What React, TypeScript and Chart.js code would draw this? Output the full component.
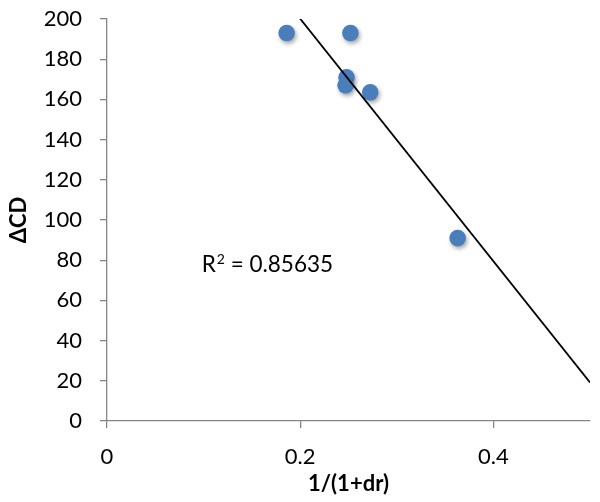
import React, { useEffect, useRef } from "react";
import { Chart, registerables } from "chart.js";

Chart.register(...registerables);

// ---- data ----
const xValues = [0.186, 0.252, 0.248, 0.247, 0.2725, 0.363];
const yValues = [193, 193, 171, 167, 163.5, 91];
const xTickValues = [0, 0.2, 0.4];
const yTickStep = 20;
const xAxisMin = 0;
const xAxisMax = 0.5;
const yAxisMin = 0;
const yAxisMax = 200;
const xTitle = "1/(1+dr)";
const yTitle = "ΔCD";
const rSquaredBase = "R";
const rSquaredSup = "2";
const rSquaredRest = " = 0.85635";
const rSquaredAnchor = { x: 0.098, y: 77.6 };

// least-squares linear trend line (as Excel computes it)
function linearFit(xs: number[], ys: number[]) {
  const n = xs.length;
  const mx = xs.reduce((a, b) => a + b, 0) / n;
  const my = ys.reduce((a, b) => a + b, 0) / n;
  let sxy = 0;
  let sxx = 0;
  for (let i = 0; i < n; i++) {
    sxy += (xs[i] - mx) * (ys[i] - my);
    sxx += (xs[i] - mx) * (xs[i] - mx);
  }
  const slope = sxy / sxx;
  return { slope, intercept: my - slope * mx };
}

const FONT = "Lato, 'Open Sans', 'DejaVu Sans', sans-serif";
const AXIS_GRAY = "#868686";

export default function App() {
  const canvasRef = useRef<HTMLCanvasElement | null>(null);

  useEffect(() => {
    const canvas = canvasRef.current;
    if (!canvas) return;
    const fit = linearFit(xValues, yValues);
    const trendXs = [Math.min(...xValues), xAxisMax];
    const trendData = trendXs.map((x) => ({ x, y: fit.intercept + fit.slope * x }));
    const points = xValues.map((x, i) => ({ x, y: yValues[i] }));

    const shadowPlugin = {
      id: "pointShadow",
      beforeDatasetDraw(chart: any, args: any) {
        if (args.index !== 1) return;
        const ctx = chart.ctx;
        ctx.save();
        ctx.shadowColor = "rgba(0,0,0,0.35)";
        ctx.shadowBlur = 4;
        ctx.shadowOffsetX = 1.5;
        ctx.shadowOffsetY = 2.5;
      },
      afterDatasetDraw(chart: any, args: any) {
        if (args.index !== 1) return;
        chart.ctx.restore();
      },
    };

    const labelPlugin = {
      id: "rSquared",
      afterDatasetsDraw(chart: any) {
        const ctx = chart.ctx;
        let x = chart.scales.x.getPixelForValue(rSquaredAnchor.x);
        const y = chart.scales.y.getPixelForValue(rSquaredAnchor.y);
        ctx.save();
        ctx.fillStyle = "#000";
        ctx.textAlign = "left";
        ctx.textBaseline = "middle";
        ctx.font = `22.5px ${FONT}`;
        ctx.fillText(rSquaredBase, x, y);
        x += ctx.measureText(rSquaredBase).width + 1;
        ctx.font = `14px ${FONT}`;
        ctx.fillText(rSquaredSup, x, y - 6);
        x += ctx.measureText(rSquaredSup).width;
        ctx.font = `22.5px ${FONT}`;
        ctx.fillText(rSquaredRest, x, y);
        ctx.restore();
      },
    };

    const chart = new Chart(canvas, {
      type: "scatter",
      data: {
        datasets: [
          {
            type: "line",
            data: trendData,
            borderColor: "#000000",
            borderWidth: 1.8,
            pointRadius: 0,
            fill: false,
            tension: 0,
          } as any,
          {
            data: points,
            backgroundColor: "#4A7EBB",
            borderColor: "#4A7EBB",
            borderWidth: 0,
            pointRadius: 8.3,
            pointHoverRadius: 8.3,
          },
        ],
      },
      options: {
        responsive: false,
        animation: false,
        events: [],
        layout: { padding: { left: 0, right: 10, top: 19, bottom: 0 } },
        plugins: {
          legend: { display: false },
          tooltip: { enabled: false },
        },
        scales: {
          x: {
            type: "linear",
            min: xAxisMin,
            max: xAxisMax,
            afterBuildTicks: (scale: any) => {
              scale.ticks = xTickValues.map((v) => ({ value: v }));
            },
            afterFit: (scale: any) => {
              scale.height = 81;
              scale.paddingLeft = 0;
              scale.paddingRight = 0;
            },
            ticks: {
              color: "#000",
              font: { family: FONT, size: 22 },
              padding: 16,
              maxRotation: 0,
              callback: (v: any) => String(v),
            },
            grid: {
              display: true,
              drawOnChartArea: false,
              drawTicks: true,
              tickLength: 7,
              color: AXIS_GRAY,
              lineWidth: 1.3,
            },
            border: { display: true, color: AXIS_GRAY, width: 1.3 },
            title: {
              display: true,
              text: xTitle,
              color: "#000",
              font: { family: FONT, size: 22, weight: "bold" },
              padding: { top: 0, bottom: 5 },
            },
          },
          y: {
            type: "linear",
            min: yAxisMin,
            max: yAxisMax,
            ticks: {
              stepSize: yTickStep,
              color: "#000",
              font: { family: FONT, size: 22 },
              padding: 18,
            },
            afterFit: (scale: any) => {
              scale.width = 107;
              scale.paddingTop = 0;
              scale.paddingBottom = 0;
            },
            grid: {
              display: true,
              drawOnChartArea: false,
              drawTicks: true,
              tickLength: 7,
              color: AXIS_GRAY,
              lineWidth: 1.3,
            },
            border: { display: true, color: AXIS_GRAY, width: 1.3 },
            title: {
              display: true,
              text: yTitle,
              color: "#000",
              font: { family: FONT, size: 22, weight: "bold" },
              padding: { top: 6, bottom: 0 },
            },
          },
        },
      },
      plugins: [shadowPlugin, labelPlugin],
    });

    return () => chart.destroy();
  }, []);

  return (
    <div style={{ position: "absolute", left: 0, top: 0, width: 600, height: 502, background: "#fff" }}>
      <canvas ref={canvasRef} width={600} height={502} style={{ display: "block" }} />
    </div>
  );
}
